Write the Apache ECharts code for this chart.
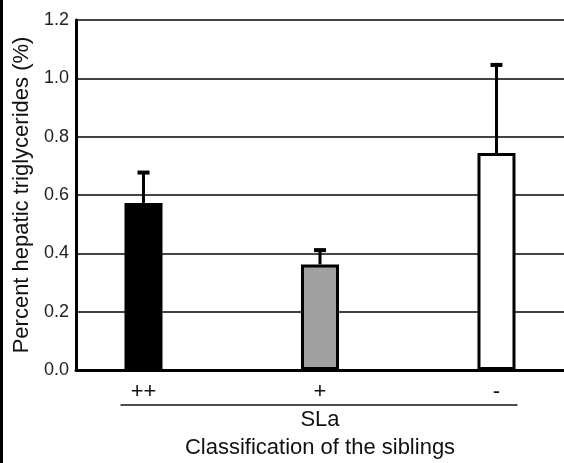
<!DOCTYPE html>
<html>
<head>
<meta charset="utf-8">
<script src="https://cdn.jsdelivr.net/npm/echarts@6/dist/echarts.min.js"></script>
<style>
	html, body {
		margin: 0;
		padding: 0;
		background: #fff;
	}

	/* 左侧黑边 */
	.edge {
		position: absolute;
		left: 0;
		top: 0;
		width: 3px;
		height: 463px;
		background: #000;
		z-index: 2;
	}

	#box {
		width: 564px;
		height: 463px;
	}
</style>
</head>
<body>
<div class="edge"></div>
<div id="box"></div>
<script>
	var categories = ['++', '+', '-'];
	var means = [0.573, 0.362, 0.744];
	var upper = [0.677, 0.411, 1.046];
	var barColors = ['#000000', '#a0a0a0', '#ffffff'];

	var font = 'Liberation Sans, Arial, sans-serif';

	var barData = means.map(function (v, i) {
		return {
			value: [i, v],
			itemStyle: { color: barColors[i] }
		};
	});

	var errData = means.map(function (v, i) {
		return [i, v, upper[i]];
	});

	var myChart = echarts.init(document.getElementById('box'));

	var option = {
		animation: false,
		grid: {
			left: 76,
			right: 0,
			top: 20,
			bottom: 93,
			outerBoundsMode: 'none',
			containLabel: false
		},
		xAxis: {
			type: 'value',
			min: -0.3824,
			max: 2.3825,
			name: 'SLa\nClassification of the siblings',
			nameLocation: 'middle',
			nameGap: 36,
			nameMoveOverlap: false,
			nameTextStyle: {
				fontFamily: font,
				fontSize: 22,
				lineHeight: 28,
				color: '#111'
			},
			axisLine: {
				onZero: false,
				lineStyle: { color: '#000', width: 3 }
			},
			axisTick: { show: false },
			splitLine: { show: false },
			axisLabel: {
				customValues: [0, 1, 2],
				formatter: function (v) {
					return categories[Math.round(v)];
				},
				fontFamily: font,
				fontSize: 22,
				color: '#111',
				margin: 11
			}
		},
		yAxis: {
			type: 'value',
			min: 0,
			max: 1.2,
			interval: 0.2,
			name: 'Percent hepatic triglycerides (%)',
			nameLocation: 'middle',
			nameGap: 43,
			nameMoveOverlap: false,
			nameTextStyle: {
				fontFamily: font,
				fontSize: 22,
				color: '#111'
			},
			axisLine: {
				show: true,
				onZero: false,
				lineStyle: { color: '#000', width: 3 }
			},
			axisTick: { show: false },
			splitLine: {
				lineStyle: { color: '#444', width: 2 }
			},
			axisLabel: {
				formatter: function (v) {
					return v.toFixed(1);
				},
				fontFamily: font,
				fontSize: 18,
				color: '#222',
				margin: 7
			}
		},
		series: [{
				type: 'bar',
				barWidth: 38,
				data: barData,
				itemStyle: {
					borderColor: '#000',
					borderWidth: 3
				},
				z: 3
			},
			{
				// 误差线
				type: 'custom',
				data: errData,
				z: 4,
				renderItem: function (params, api) {
					var p0 = api.coord([api.value(0), api.value(1)]);
					var p1 = api.coord([api.value(0), api.value(2)]);
					return {
						type: 'group',
						children: [{
								type: 'line',
								shape: { x1: p0[0], y1: p0[1], x2: p1[0], y2: p1[1] },
								style: { stroke: '#000', lineWidth: 3 }
							},
							{
								type: 'rect',
								shape: { x: p1[0] - 6, y: p1[1] - 2, width: 12, height: 4 },
								style: { fill: '#000' }
							}
						]
					};
				}
			},
			{
				// 分类下方的横线
				type: 'custom',
				data: [[0, 2]],
				renderItem: function (params, api) {
					var a = api.coord([api.value(0), 0]);
					var b = api.coord([api.value(1), 0]);
					return {
						type: 'line',
						shape: { x1: a[0] - 23, y1: a[1] + 35, x2: b[0] + 21, y2: b[1] + 35 },
						style: { stroke: '#111', lineWidth: 1.5 }
					};
				}
			}
		]
	};

	myChart.setOption(option);
</script>
</body>
</html>
